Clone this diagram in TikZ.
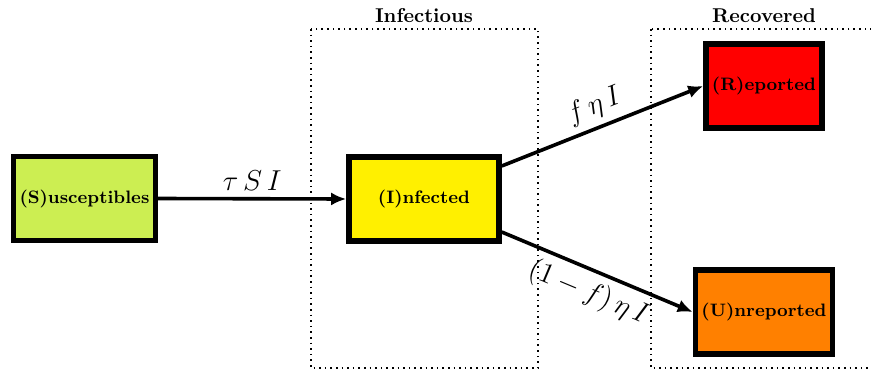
\documentclass[tikz,border=0pt]{standalone}
\usepackage{amsmath, amssymb}
\usepackage[svgnames]{xcolor}
\usepackage{tikz}
\usetikzlibrary{arrows.meta}

% 各仓室的颜色
\definecolor{colS}{RGB}{204,238,82}
\definecolor{colI}{RGB}{255,240,0}
\definecolor{colR}{RGB}{255,0,0}
\definecolor{colU}{RGB}{255,128,0}

\tikzset{
    compart/.style={draw=black, line width=2.8pt, minimum height=42pt,
        inner sep=3pt, font=\small\bfseries},
    flow/.style={-{Latex[length=7.5pt, width=6.5pt]}, line width=1.8pt},
    zone/.style={dotted, thick},
    zonelabel/.style={font=\bfseries}
}

\begin{document}
\begin{tikzpicture}[x=0.5pt, y=-0.5pt]
    % 画布范围
    \useasboundingbox (0,0) rectangle (871,369);

    % 虚线区域
    \draw[zone] (311,29) rectangle (538,368);
    \draw[zone] (651,29) rectangle (890,368);
    \node[zonelabel] (infLabel) at (424,16) {Infectious};
    \node[zonelabel] (recLabel) at (764,16) {Recovered};

    % 仓室
    \node[compart, fill=colS, minimum width=70.5pt] (S) at (84.5,198.5) {(S)usceptibles};
    \node[compart, fill=colI, minimum width=75pt] (I) at (424,199) {(I)nfected};
    \node[compart, fill=colR, minimum width=58pt] (R) at (764,86) {(R)eported};
    \node[compart, fill=colU, minimum width=68.5pt] (U) at (764,312) {(U)nreported};

    % 转移箭头
    \draw[flow] (S.east) -- (I.west) node[midway, above] {\Large $\tau\,S\,I$};
    \draw[flow] (I.23) -- (R.west) node[midway, sloped, above] {\Large $f\,\eta\,I$};
    \draw[flow] (I.-23) -- (U.west) node[midway, sloped, below] {\Large $(1-f)\,\eta\,I$};

\end{tikzpicture}
\end{document}
